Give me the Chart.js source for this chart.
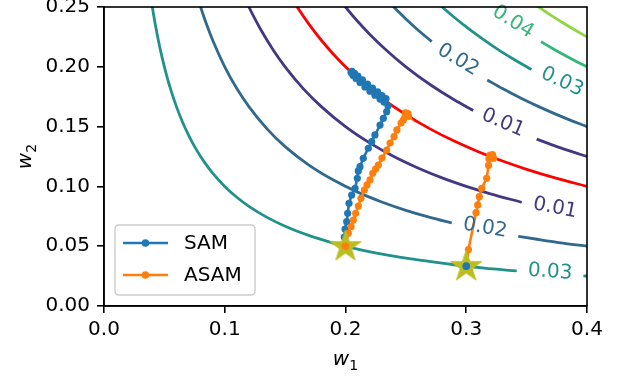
<!DOCTYPE html>
<html><head><meta charset="utf-8">
<script src="https://cdn.jsdelivr.net/npm/chart.js@4.4.1/dist/chart.umd.min.js"></script>
<style>html,body{margin:0;padding:0;background:#fff;}canvas{display:block;}</style>
</head><body>
<canvas id="c" width="617" height="377"></canvas>
<script>
// ---- tick labels ----
const xTickValues = [0.0, 0.1, 0.2, 0.3, 0.4];
const yTickValues = [0.00, 0.05, 0.10, 0.15, 0.20, 0.25];

// ---- contour lines (null = gap left for the inline label) ----
const lo03_x = [0.039,0.04,0.042,0.045,0.048,0.052,0.056,0.06,0.065,0.07,0.076,0.083,0.09,0.1,0.11,0.12,0.135,0.15,0.17,0.19,0.21,0.235,0.26,0.29,0.315,0.3418,0.37,0.397,0.4];
const lo03_y = [0.2564,0.25,0.2381,0.2222,0.2083,0.1923,0.1786,0.1667,0.1538,0.1429,0.1316,0.1205,0.1111,0.1,0.0909,0.0833,0.0741,0.0667,0.0588,0.0526,0.0476,0.0426,0.0385,0.0345,0.0317,0.0293,null,0.0252,0.025];
const lo02_x = [0.078,0.08,0.085,0.09,0.1,0.11,0.12,0.135,0.15,0.17,0.19,0.21,0.23,0.25,0.27,0.288,0.315,0.3431,0.36,0.38,0.4];
const lo02_y = [0.2564,0.25,0.2353,0.2222,0.2,0.1818,0.1667,0.1481,0.1333,0.1176,0.1053,0.0952,0.087,0.08,0.0741,0.0694,null,0.0583,0.0556,0.0526,0.05];
const lo01_x = [0.118,0.12,0.125,0.13,0.14,0.15,0.165,0.18,0.2,0.22,0.24,0.26,0.28,0.3,0.32,0.3459];
const lo01_y = [0.2542,0.25,0.24,0.2308,0.2143,0.2,0.1818,0.1667,0.15,0.1364,0.125,0.1154,0.1071,0.1,0.0938,0.0867];
const zero_x = [0.155,0.16,0.17,0.18,0.19,0.2,0.215,0.23,0.25,0.27,0.29,0.31,0.33,0.35,0.375,0.4];
const zero_y = [0.2581,0.25,0.2353,0.2222,0.2105,0.2,0.186,0.1739,0.16,0.1481,0.1379,0.129,0.1212,0.1143,0.1067,0.1];
const hi01_x = [0.195,0.2,0.21,0.22,0.235,0.25,0.27,0.29,0.3058,0.33,0.3583,0.375,0.39,0.4];
const hi01_y = [0.2564,0.25,0.2381,0.2273,0.2128,0.2,0.1852,0.1724,0.1635,null,0.1395,0.1333,0.1282,0.125];
const hi02_x = [0.235,0.24,0.245,0.25,0.26,0.2714,0.295,0.3174,0.33,0.345,0.36,0.38,0.4];
const hi02_y = [0.2553,0.25,0.2449,0.24,0.2308,0.2211,null,0.189,0.1818,0.1739,0.1667,0.1579,0.15];
const hi03_x = [0.275,0.28,0.29,0.3,0.31,0.32,0.33,0.34,0.354];
const hi03_y = [0.2545,0.25,0.2414,0.2333,0.2258,0.2188,0.2121,0.2059,0.1977];
const hi04_x = [0.362,0.37,0.38,0.39,0.4];
const hi04_y = [0.221,0.2162,0.2105,0.2051,0.2];
const hi05_x = [0.355,0.36,0.37,0.38,0.39,0.4];
const hi05_y = [0.2535,0.25,0.2432,0.2368,0.2308,0.225];

// ---- contour labels ----
const contourLabelText = ['0.04','0.03','0.02','0.01','0.01','0.02','0.03'];
const contourLabelX = [0.3387,0.3793,0.2932,0.3304,0.3735,0.3155,0.3694];
const contourLabelY = [0.2375,0.1873,0.2057,0.153,0.0819,0.0652,0.0284];

// ---- trajectories ----
const samLeft_x = [0.2,0.199,0.1996,0.201,0.2018,0.2029,0.2051,0.2079,0.2098,0.2106,0.212,0.2147,0.2189,0.2217,0.2244,0.2286,0.2313,0.2341,0.2352,0.2335,0.2319,0.2302,0.2286,0.2265,0.2244,0.2224,0.2203,0.2182,0.2161,0.214,0.212,0.2103,0.2087,0.2075,0.2062,0.2054,0.2046];
const samLeft_y = [0.05,0.0577,0.0644,0.0705,0.0775,0.0859,0.0928,0.0984,0.1068,0.1129,0.1165,0.1235,0.1319,0.1374,0.143,0.1513,0.1569,0.1625,0.1672,0.1735,0.1705,0.1760,0.1730,0.1790,0.1762,0.1822,0.1796,0.1855,0.1832,0.1890,0.1868,0.1922,0.1902,0.1945,0.1928,0.1962,0.1952];
const asamLeft_x = [0.2,0.2023,0.2046,0.2065,0.2084,0.2106,0.2128,0.2156,0.2178,0.2203,0.2225,0.2249,0.2272,0.2302,0.2341,0.2369,0.2402,0.2426,0.246,0.2479,0.2492,0.2518,0.2498,0.2522,0.2507];
const asamLeft_y = [0.05,0.0608,0.0663,0.0719,0.0775,0.0836,0.09,0.097,0.1012,0.1054,0.111,0.1145,0.1179,0.1237,0.1304,0.1363,0.1416,0.1472,0.153,0.1555,0.1582,0.1608,0.1615,0.1586,0.1597];
const asamRight_x = [0.3,0.3018,0.3081,0.3095,0.3108,0.3128,0.3169,0.3185,0.3188,0.3218,0.3226,0.3196,0.3207];
const asamRight_y = [0.0333,0.0472,0.078,0.0845,0.0914,0.0984,0.1068,0.1175,0.1232,0.1266,0.1236,0.1262,0.1248];
const samRight_x = [0.3];
const samRight_y = [0.0333];
const stars_x = [0.2, 0.3];
const stars_y = [0.05, 0.0333];
const legendLabels = ['SAM', 'ASAM'];

// ---- styles ----
const C_BLUE = '#1f77b4', C_ORANGE = '#ff7f0e', C_OLIVE = '#bcbd22';
const V1 = '#453781', V2 = '#31688e', V3 = '#21918c', V4 = '#35b779', V5 = '#90d743';
const labelColors = [V4, V3, V2, V1, V1, V2, V3];
const labelAngles = [32, 25, 31, 23, 11, 10, 4];
const FONT = '"DejaVu Sans", "Liberation Sans", sans-serif';

const pts = (xs, ys) => xs.map((x, i) => ({x: x, y: ys[i]}));

function contour(xs, ys, color, order) {
  return {data: pts(xs, ys), showLine: true, borderColor: color, borderWidth: 2.8,
    pointRadius: 0, cubicInterpolationMode: 'monotone', spanGaps: false, order: order};
}
function traj(xs, ys, color, order) {
  return {data: pts(xs, ys), showLine: true, borderColor: color, backgroundColor: color,
    borderWidth: 2.6, pointRadius: 3.6, pointBorderWidth: 0, pointBackgroundColor: color,
    tension: 0, order: order};
}

// filled 5-point star as point style
const starCanvas = document.createElement('canvas');
starCanvas.width = 36; starCanvas.height = 36;
(function(){
  const g = starCanvas.getContext('2d');
  const R = 16.5, r = R * 0.381966, cx = 18, cy = 18.5;
  g.beginPath();
  for (let k = 0; k < 10; k++) {
    const rad = k % 2 === 0 ? R : r;
    const ang = -Math.PI / 2 + k * Math.PI / 5;
    const px = cx + rad * Math.cos(ang), py = cy + rad * Math.sin(ang);
    if (k === 0) g.moveTo(px, py); else g.lineTo(px, py);
  }
  g.closePath();
  g.fillStyle = C_OLIVE; g.fill();
  g.strokeStyle = C_OLIVE; g.lineWidth = 1; g.stroke();
})();

const datasets = [
  contour(lo03_x, lo03_y, V3, 20),
  contour(lo02_x, lo02_y, V2, 20),
  contour(lo01_x, lo01_y, V1, 20),
  contour(zero_x, zero_y, '#ff0000', 20),
  contour(hi01_x, hi01_y, V1, 20),
  contour(hi02_x, hi02_y, V2, 20),
  contour(hi03_x, hi03_y, V3, 20),
  contour(hi04_x, hi04_y, V4, 20),
  contour(hi05_x, hi05_y, V5, 20),
  traj(samLeft_x, samLeft_y, C_BLUE, 8),
  traj(asamLeft_x, asamLeft_y, C_ORANGE, 7),
  traj(asamRight_x, asamRight_y, C_ORANGE, 6),
  {data: pts(stars_x, stars_y), showLine: false, pointStyle: starCanvas, pointRadius: 16, order: 4},
  {data: pts([asamLeft_x[0]], [asamLeft_y[0]]), showLine: false, pointRadius: 3.8, pointBorderWidth: 0, pointBackgroundColor: C_ORANGE, order: 2},
  {data: pts(samRight_x, samRight_y), showLine: false, pointRadius: 3.8, pointBorderWidth: 0, pointBackgroundColor: C_BLUE, order: 1}
];

function drawMathLabel(ctx, text, sub) {
  ctx.font = 'italic 20px ' + FONT;
  const w1 = ctx.measureText(text).width;
  ctx.font = '14px ' + FONT;
  const w2 = ctx.measureText(sub).width;
  const total = w1 + w2;
  ctx.textBaseline = 'alphabetic';
  ctx.textAlign = 'left';
  ctx.font = 'italic 20px ' + FONT;
  ctx.fillText(text, -total / 2, 0);
  ctx.font = '14px ' + FONT;
  ctx.fillText(sub, -total / 2 + w1, 4.5);
}

const decor = {
  id: 'decor',
  afterDatasetsDraw(chart) {
    const {ctx, chartArea: a, scales: {x, y}} = chart;
    ctx.save();
    // contour labels
    ctx.font = '20px ' + FONT;
    ctx.textAlign = 'center'; ctx.textBaseline = 'middle';
    contourLabelText.forEach((t, i) => {
      ctx.save();
      ctx.translate(x.getPixelForValue(contourLabelX[i]), y.getPixelForValue(contourLabelY[i]));
      ctx.rotate(labelAngles[i] * Math.PI / 180);
      ctx.fillStyle = labelColors[i];
      ctx.fillText(t, 0, 0);
      ctx.restore();
    });
    // spines
    ctx.strokeStyle = '#000'; ctx.lineWidth = 1.6;
    ctx.strokeRect(a.left, a.top, a.right - a.left, a.bottom - a.top);
    // legend
    const lx = a.left + 11, ly = a.bottom - 81, lw = 140, lh = 70, rr = 4;
    ctx.beginPath();
    ctx.moveTo(lx + rr, ly); ctx.lineTo(lx + lw - rr, ly); ctx.quadraticCurveTo(lx + lw, ly, lx + lw, ly + rr);
    ctx.lineTo(lx + lw, ly + lh - rr); ctx.quadraticCurveTo(lx + lw, ly + lh, lx + lw - rr, ly + lh);
    ctx.lineTo(lx + rr, ly + lh); ctx.quadraticCurveTo(lx, ly + lh, lx, ly + lh - rr);
    ctx.lineTo(lx, ly + rr); ctx.quadraticCurveTo(lx, ly, lx + rr, ly);
    ctx.closePath();
    ctx.fillStyle = 'rgba(255,255,255,0.8)'; ctx.fill();
    ctx.strokeStyle = '#cccccc'; ctx.lineWidth = 1.4; ctx.stroke();
    const cols = [C_BLUE, C_ORANGE];
    legendLabels.forEach((t, i) => {
      const yy = ly + 18 + i * 32;
      ctx.strokeStyle = cols[i]; ctx.lineWidth = 2.6;
      ctx.beginPath(); ctx.moveTo(lx + 8, yy); ctx.lineTo(lx + 53, yy); ctx.stroke();
      ctx.fillStyle = cols[i];
      ctx.beginPath(); ctx.arc(lx + 30.5, yy, 3.8, 0, Math.PI * 2); ctx.fill();
      ctx.fillStyle = '#000'; ctx.font = '20px ' + FONT;
      ctx.textAlign = 'left'; ctx.textBaseline = 'middle';
      ctx.fillText(t, lx + 69, yy + 1);
    });
    // axis titles
    ctx.fillStyle = '#000';
    ctx.save(); ctx.translate((a.left + a.right) / 2, 365); drawMathLabel(ctx, 'w', '1'); ctx.restore();
    ctx.save(); ctx.translate(31, (a.top + a.bottom) / 2); ctx.rotate(-Math.PI / 2); drawMathLabel(ctx, 'w', '2'); ctx.restore();
    ctx.restore();
  }
};

new Chart(document.getElementById('c'), {
  type: 'scatter',
  data: {datasets: datasets},
  options: {
    responsive: false, animation: false, devicePixelRatio: 1,
    layout: {autoPadding: false, padding: {top: 7, right: 30, left: 0, bottom: 0}},
    elements: {line: {capBezierPoints: false}},
    plugins: {legend: {display: false}, tooltip: {enabled: false}},
    scales: {
      x: {
        type: 'linear', min: 0, max: 0.4,
        afterBuildTicks: s => { s.ticks = xTickValues.map(v => ({value: v})); },
        afterFit: s => { s.height = 71; s.paddingLeft = 0; s.paddingRight = 0; },
        ticks: {autoSkip: false, maxRotation: 0, padding: 5, color: '#000',
          font: {family: FONT, size: 20}, callback: v => Number(v).toFixed(1)},
        grid: {drawOnChartArea: false, drawTicks: true, tickLength: 7, color: '#000', lineWidth: 1.6},
        border: {display: true, color: '#000', width: 1.6}
      },
      y: {
        type: 'linear', min: 0, max: 0.25,
        afterBuildTicks: s => { s.ticks = yTickValues.map(v => ({value: v})); },
        afterFit: s => { s.width = 104; s.paddingTop = 0; s.paddingBottom = 0; },
        ticks: {autoSkip: false, padding: 7, color: '#000',
          font: {family: FONT, size: 20}, callback: v => Number(v).toFixed(2)},
        grid: {drawOnChartArea: false, drawTicks: true, tickLength: 7, color: '#000', lineWidth: 1.6},
        border: {display: true, color: '#000', width: 1.6}
      }
    }
  },
  plugins: [decor]
});
</script>
</body></html>
